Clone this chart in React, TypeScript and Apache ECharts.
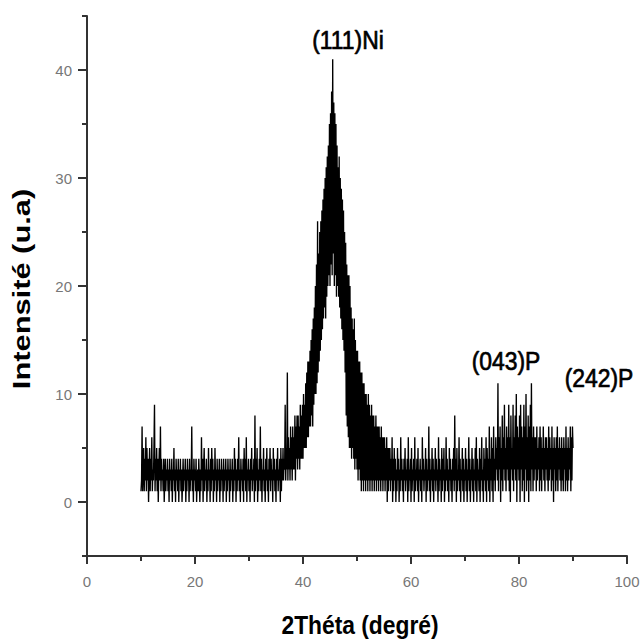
import React, { useEffect, useRef } from "react";
import * as echarts from "echarts";

// 2θ sampling grid (degrees)
const thetaStart = 10;
const thetaStep = 0.1;

const intensity = [
  1, 2, 7, 1, 3, 5, 1, 4, 2, 6, // 10
  1, 5, 2, 4, 0, 3, 5, 1, 4, 2, // 11
  6, 1, 3, 2, 5, 9, 1, 4, 2, 5, // 12
  1, 4, 0, 3, 5, 2, 7, 1, 4, 2, // 13
  3, 1, 4, 0, 2, 4, 1, 3, 2, 4, // 14
  1, 3, 0, 4, 2, 3, 1, 4, 0, 3, // 15
  2, 5, 1, 3, 0, 4, 2, 3, 1, 4, // 16
  0, 3, 2, 4, 1, 3, 0, 2, 4, 1, // 17
  3, 2, 4, 0, 3, 1, 4, 2, 3, 0, // 18
  4, 1, 3, 2, 7, 1, 3, 0, 4, 2, // 19
  3, 1, 4, 0, 2, 3, 1, 4, 2, 0, // 20
  3, 1, 6, 2, 4, 0, 3, 5, 1, 3, // 21
  2, 4, 0, 3, 1, 5, 2, 3, 0, 4, // 22
  1, 5, 2, 4, 0, 3, 1, 5, 2, 3, // 23
  0, 4, 1, 3, 2, 4, 0, 3, 1, 4, // 24
  2, 3, 0, 4, 1, 3, 2, 4, 0, 3, // 25
  1, 4, 2, 3, 0, 4, 1, 3, 2, 4, // 26
  0, 3, 1, 5, 2, 4, 0, 3, 1, 4, // 27
  2, 6, 1, 3, 0, 4, 2, 3, 1, 4, // 28
  0, 5, 2, 4, 1, 6, 0, 3, 2, 4, // 29
  1, 3, 0, 4, 2, 5, 1, 3, 2, 4, // 30
  0, 8, 1, 4, 2, 5, 0, 3, 1, 4, // 31
  2, 7, 1, 4, 0, 3, 2, 5, 1, 3, // 32
  0, 4, 2, 5, 1, 3, 0, 4, 2, 5, // 33
  1, 4, 2, 3, 0, 5, 2, 4, 1, 3, // 34
  0, 4, 2, 5, 1, 3, 2, 4, 0, 5, // 35
  1, 4, 2, 5, 2, 4, 3, 9, 2, 5, // 36
  3, 12, 2, 6, 3, 5, 2, 7, 3, 6, // 37
  2, 7, 3, 6, 3, 8, 2, 7, 4, 8, // 38
  3, 8, 4, 7, 3, 9, 4, 8, 4, 9, // 39
  4, 10, 5, 9, 5, 11, 5, 12, 6, 13, // 40
  6, 13, 7, 14, 7, 15, 8, 16, 7, 17, // 41
  9, 18, 10, 20, 10, 22, 11, 26, 12, 23, // 42
  13, 25, 14, 26, 15, 27, 16, 28, 17, 29, // 43
  18, 30, 17, 31, 19, 32, 20, 33, 21, 35, // 44
  20, 36, 22, 38, 21, 41, 23, 37, 20, 36, // 45
  21, 35, 19, 33, 20, 31, 19, 32, 18, 30, // 46
  17, 29, 16, 28, 15, 27, 14, 25, 12, 24, // 47
  8, 22, 7, 21, 6, 21, 5, 20, 5, 18, // 48
  4, 17, 5, 16, 4, 17, 3, 15, 4, 14, // 49
  3, 14, 2, 13, 3, 13, 2, 12, 1, 12, // 50
  2, 11, 1, 11, 2, 10, 1, 10, 2, 9, // 51
  1, 10, 2, 9, 1, 8, 2, 9, 1, 8, // 52
  2, 8, 1, 7, 2, 8, 1, 7, 2, 7, // 53
  1, 7, 2, 6, 1, 7, 2, 6, 1, 6, // 54
  2, 6, 1, 5, 2, 6, 0, 5, 1, 5, // 55
  2, 5, 1, 4, 2, 6, 0, 4, 1, 5, // 56
  2, 4, 0, 3, 1, 5, 2, 4, 0, 3, // 57
  1, 6, 2, 4, 1, 3, 0, 4, 2, 5, // 58
  1, 3, 2, 4, 0, 6, 1, 3, 2, 4, // 59
  0, 5, 1, 3, 2, 4, 0, 6, 1, 3, // 60
  2, 4, 1, 5, 0, 3, 2, 4, 1, 3, // 61
  0, 6, 2, 4, 1, 3, 2, 5, 0, 4, // 62
  1, 3, 2, 7, 1, 4, 0, 3, 2, 5, // 63
  1, 4, 0, 3, 2, 5, 1, 4, 2, 3, // 64
  0, 6, 1, 4, 2, 3, 0, 5, 1, 4, // 65
  2, 5, 0, 3, 1, 6, 2, 4, 1, 3, // 66
  0, 5, 2, 4, 1, 3, 0, 4, 2, 5, // 67
  1, 8, 2, 4, 0, 5, 1, 3, 2, 6, // 68
  1, 4, 0, 3, 2, 5, 1, 4, 0, 3, // 69
  2, 5, 1, 4, 0, 3, 2, 6, 1, 4, // 70
  0, 3, 2, 5, 1, 4, 0, 3, 2, 5, // 71
  1, 6, 0, 4, 2, 3, 1, 5, 0, 4, // 72
  2, 6, 1, 3, 0, 5, 2, 4, 1, 6, // 73
  0, 5, 2, 4, 1, 7, 0, 4, 2, 6, // 74
  1, 5, 0, 7, 2, 4, 1, 6, 3, 5, // 75
  2, 11, 1, 6, 3, 7, 0, 5, 2, 8, // 76
  1, 6, 3, 9, 2, 5, 1, 7, 3, 6, // 77
  2, 9, 1, 6, 0, 8, 3, 5, 2, 9, // 78
  1, 6, 3, 8, 2, 10, 0, 7, 3, 6, // 79
  2, 8, 0, 9, 3, 7, 1, 6, 2, 9, // 80
  0, 7, 3, 10, 1, 6, 2, 8, 0, 7, // 81
  2, 9, 1, 11, 3, 6, 1, 7, 2, 6, // 82
  3, 6, 1, 7, 2, 5, 3, 6, 1, 7, // 83
  2, 6, 1, 5, 3, 7, 2, 5, 1, 6, // 84
  3, 6, 2, 5, 1, 7, 2, 6, 3, 5, // 85
  1, 7, 2, 5, 0, 6, 3, 5, 1, 6, // 86
  2, 7, 1, 5, 3, 6, 2, 5, 1, 6, // 87
  2, 5, 1, 6, 3, 5, 1, 7, 2, 5, // 88
  1, 6, 2, 5, 3, 7, 1, 6, 2, 7, // 89
  5, // 90
];

// Peak annotations
const peakLabels = ["(111)Ni", "(043)P", "(242)P"];

const xTitle = "2Théta (degré)";
const yTitle = "Intensité (u.a)";

export default function App() {
  const ref = useRef<HTMLDivElement>(null);

  useEffect(() => {
    document.body.style.margin = "0";
    const chart = echarts.init(ref.current!, null, { renderer: "svg" });

    const data = intensity.map((v, i) => [
      +(thetaStart + i * thetaStep).toFixed(2),
      v,
    ]);

    const axisColor = "#333";
    const labelStyle = {
      fontSize: 15,
      color: "#777",
      fontFamily: "'Liberation Sans Narrow', 'Liberation Sans', Arial, sans-serif",
    };
    const annStyle = {
      font: "22px 'Liberation Sans', Arial, sans-serif",
      fill: "#000",
      stroke: "#000",
      lineWidth: 0.6,
      textAlign: "center",
      textVerticalAlign: "middle",
    };

    chart.setOption({
      animation: false,
      backgroundColor: "#fff",
      grid: [
        { left: 87, right: 17, top: 16, bottom: 87 },
        { left: 87, right: 17, top: 70, bottom: 141 },
      ],
      xAxis: [
        {
          type: "value",
          gridIndex: 0,
          min: 0,
          max: 100,
          interval: 20,
          axisLine: { show: true, onZero: false, lineStyle: { color: axisColor, width: 2 } },
          axisTick: { show: true, length: 8, lineStyle: { color: axisColor, width: 2 } },
          minorTick: { show: true, splitNumber: 2, length: 5, lineStyle: { color: axisColor, width: 2 } },
          splitLine: { show: false },
          minorSplitLine: { show: false },
          axisLabel: { margin: 18, ...labelStyle },
        },
        {
          type: "value",
          gridIndex: 1,
          min: 0,
          max: 100,
          show: false,
        },
      ],
      yAxis: [
        {
          type: "value",
          gridIndex: 0,
          min: -5,
          max: 45,
          interval: 5,
          axisLine: { show: true, onZero: false, lineStyle: { color: axisColor, width: 2 } },
          axisTick: { show: true, length: 5, lineStyle: { color: axisColor, width: 2 } },
          splitLine: { show: false },
          axisLabel: { show: false },
        },
        {
          type: "value",
          gridIndex: 1,
          min: 0,
          max: 40,
          interval: 10,
          axisLine: { show: false },
          axisTick: { show: true, length: 9, lineStyle: { color: axisColor, width: 2 } },
          splitLine: { show: false },
          axisLabel: { margin: 15, ...labelStyle },
        },
      ],
      series: [
        {
          type: "line",
          xAxisIndex: 0,
          yAxisIndex: 0,
          data,
          showSymbol: false,
          symbol: "none",
          lineStyle: { color: "#000", width: 1.35 },
          silent: true,
        },
      ],
      graphic: [
        {
          type: "text",
          x: 360,
          y: 625,
          scaleX: 0.95,
          scaleY: 1.1,
          style: {
            text: xTitle,
            font: "bold 24px 'Liberation Sans', Arial, sans-serif",
            fill: "#000",
            textAlign: "center",
            textVerticalAlign: "middle",
          },
        },
        {
          type: "text",
          x: 22,
          y: 289,
          rotation: Math.PI / 2,
          scaleX: 1.34,
          style: {
            text: yTitle,
            font: "bold 23px 'Liberation Sans', Arial, sans-serif",
            fill: "#000",
            textAlign: "center",
            textVerticalAlign: "middle",
          },
        },
        { type: "text", x: 348, y: 40, scaleX: 1.04, scaleY: 1.14, style: { text: peakLabels[0], ...annStyle } },
        { type: "text", x: 506, y: 361, scaleX: 1.04, scaleY: 1.14, style: { text: peakLabels[1], ...annStyle } },
        { type: "text", x: 599, y: 378, scaleX: 1.04, scaleY: 1.14, style: { text: peakLabels[2], ...annStyle } },
      ],
    });

    return () => chart.dispose();
  }, []);

  return (
    <div
      ref={ref}
      style={{ position: "absolute", left: 0, top: 0, width: 644, height: 643 }}
    />
  );
}
